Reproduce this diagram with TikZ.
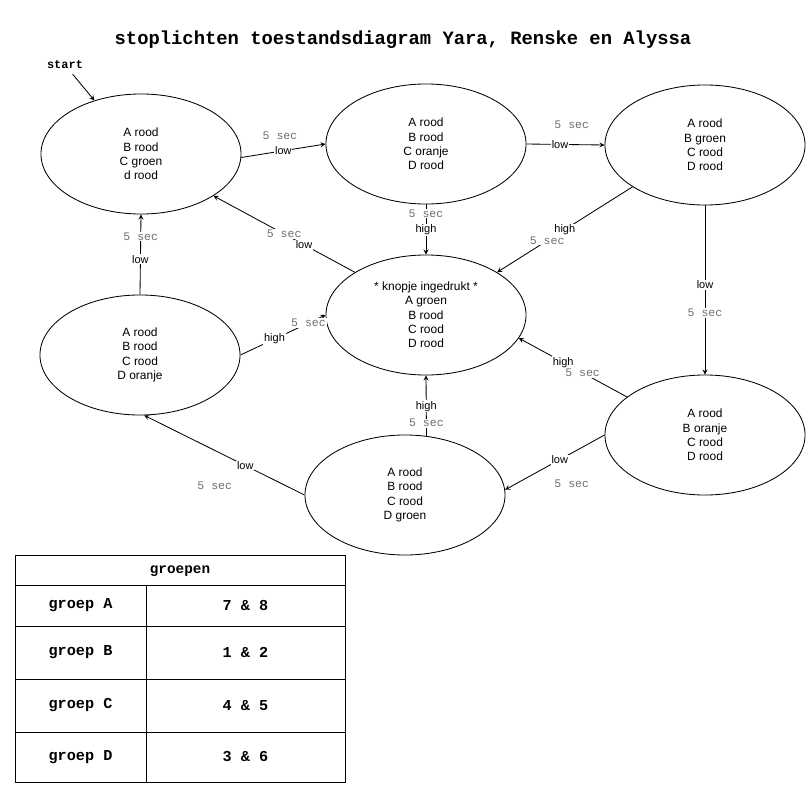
\documentclass[tikz,border=0pt]{standalone}
\usepackage{fontspec}
\setmainfont{Liberation Sans}
\setmonofont{Liberation Mono}
\usetikzlibrary{shapes.geometric}
\definecolor{secgrijs}{HTML}{6E6E6E}

\begin{document}
\begin{tikzpicture}[x=0.025cm, y=-0.025cm, line width=0.6pt,
    toestand/.style={draw, ellipse, minimum width=5cm, minimum height=3cm,
        inner sep=0pt, align=center, font=\fontsize{8.5}{10.2}\selectfont},
    lbl/.style={fill=white, inner sep=0.6pt, font=\fontsize{7.8}{9}\selectfont},
    sec/.style={fill=white, inner sep=0.6pt, text=secgrijs,
        font=\ttfamily\fontsize{8.2}{9}\selectfont},
    tabel/.style={font=\ttfamily\bfseries\fontsize{10.8}{12}\selectfont}]
    \useasboundingbox (0,0) rectangle (811,789);

    % 題
    \node[font=\ttfamily\bfseries\fontsize{13.4}{16}\selectfont] (titel) at (403,40)
        {stoplichten toestandsdiagram Yara, Renske en Alyssa};
    \node[font=\ttfamily\bfseries\fontsize{8.5}{10}\selectfont] (start) at (65,65) {start};

    % 状態
    \node[toestand] (e1) at (141,154) {A rood\\B rood\\C groen\\d rood};
    \node[toestand] (e2) at (426,144) {A rood\\B rood\\C oranje\\D rood};
    \node[toestand] (e3) at (705,145) {A rood\\B groen\\C rood\\D rood};
    \node[toestand] (e4) at (426,315) {* knopje ingedrukt *\\A groen\\B rood\\C rood\\ D rood};
    \node[toestand] (e5) at (140,355) {A rood\\B rood\\C rood\\D oranje};
    \node[toestand] (e6) at (705,435) {A rood\\B oranje\\C rood\\D rood};
    \node[toestand] (e7) at (405,495) {A rood\\B rood\\C rood\\D groen};

    % 遷移
    \draw[-stealth] (start) -- (e1.131);
    \draw[-stealth] (e1.-2) -- (e2.west)
        node[sec, pos=0.46, shift={(0,-15.5)}] {5 sec} node[lbl, pos=0.5] {low};
    \draw[-stealth] (e2.east) -- (e3.west)
        node[sec, pos=0.58, shift={(0,-19.5)}] {5 sec} node[lbl, pos=0.43] {low};
    \draw[-stealth] (e2.south) -- (e4.north)
        node[sec, pos=0.18] {5 sec} node[lbl, pos=0.51] {high};
    \draw[-stealth] (e3.210.8) -- (e4.31.4)
        node[lbl, pos=0.5] {high} node[sec, pos=0.63] {5 sec};
    \draw[-stealth] (e3.south) -- (e6.north)
        node[lbl, pos=0.47] {low} node[sec, pos=0.635] {5 sec};
    \draw[-stealth] (e6.154.6) -- (e4.-14.6)
        node[sec, pos=0.41] {5 sec} node[lbl, pos=0.59] {high};
    \draw[-stealth] (e6.west) -- (e7.3)
        node[lbl, pos=0.45] {low} node[sec, pos=0.33, shift={(0,31)}] {5 sec};
    \draw[-stealth] (e7.70.3) -- (e4.south)
        node[sec, pos=0.21] {5 sec} node[lbl, pos=0.49] {high};
    \draw[-stealth] (e7.west) -- (e5.-86)
        node[lbl, pos=0.37] {low} node[sec, pos=0.56, shift={(0,35)}] {5 sec};
    \draw[-stealth] (e5.east) -- (e4.west)
        node[lbl, pos=0.4] {high} node[sec, pos=0.8] {5 sec};
    \draw[-stealth] (e4.149.4) -- (e1.-30.7)
        node[lbl, pos=0.36] {low} node[sec, pos=0.5] {5 sec};
    \draw[-stealth] (e5.north) -- (e1.south)
        node[lbl, pos=0.44] {low} node[sec, pos=0.725] {5 sec};

    % 表
    \draw (15,555) rectangle (345,782);
    \foreach \y in {585,626,679,732}
        \draw (15,\y) -- (345,\y);
    \draw (146,585) -- (146,782);
    \node[font=\ttfamily\bfseries\fontsize{10.2}{12}\selectfont] (kop) at (180,571) {groepen};
    \foreach \g/\n/\y in {A/7 \& 8/605.5, B/1 \& 2/652.5, C/4 \& 5/705.5, D/3 \& 6/757} {
        \node[tabel] (groep\g) at (80.5,\y) {groep \g};
        \node[tabel] (nr\g) at (245.5,\y) {\n};
    }
\end{tikzpicture}
\end{document}
